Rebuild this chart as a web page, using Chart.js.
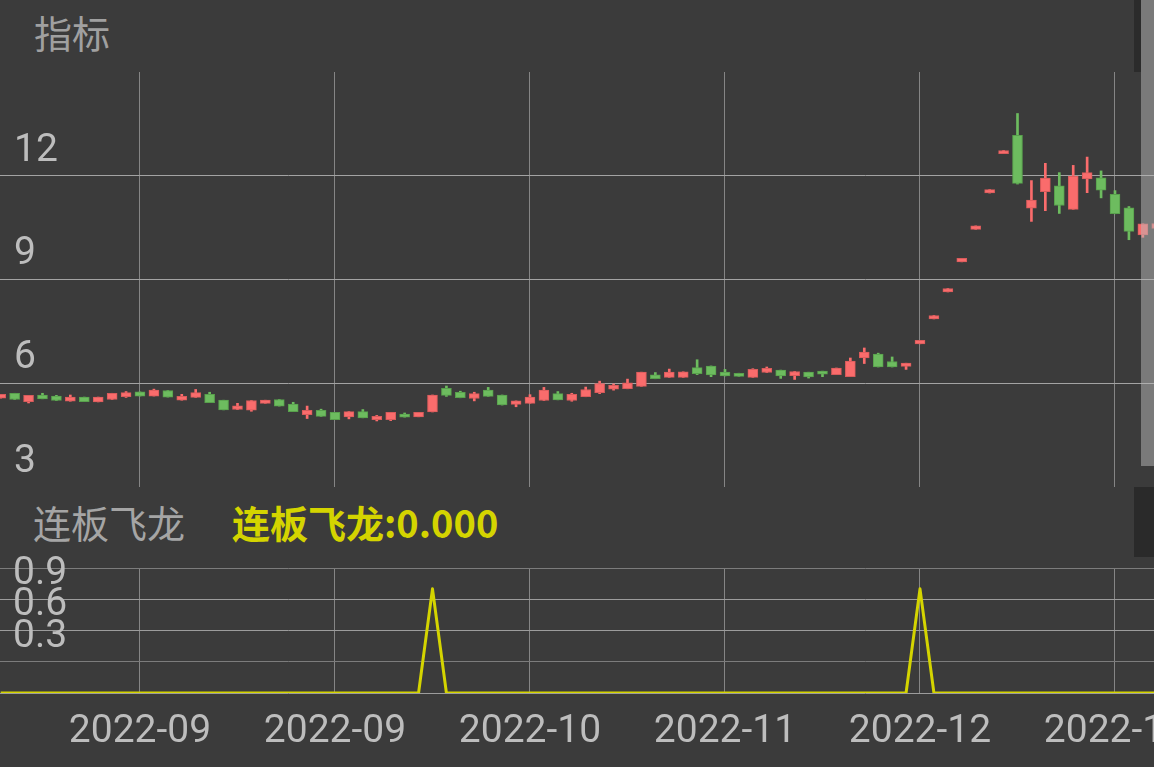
<!DOCTYPE html>
<html>
<head>
<meta charset="utf-8">
<script src="https://cdn.jsdelivr.net/npm/chart.js@4"></script>
<style>
  html, body { margin: 0; padding: 0; background: #3b3b3b; }
  #wrap { position: relative; width: 1154px; height: 767px; overflow: hidden; background: #3b3b3b; }
  canvas { position: absolute; left: 0; }
  .ttl { position: absolute; font-family: "Noto Sans CJK SC", sans-serif; font-size: 38px; line-height: 38px; white-space: nowrap; }
  .box { position: absolute; }
</style>
</head>
<body>
<div id="wrap">
  <div class="ttl" style="left:34px; top:13px; color:#a0a0a0;">指标</div>
  <canvas id="kline" width="1154" height="415" style="top:72px;"></canvas>
  <div class="ttl" style="left:33px; top:503px; color:#a5a5a5;">连板飞龙</div>
  <div class="ttl" style="left:232px; top:503px; color:#d4d400; font-weight:bold;">连板飞龙:0.000</div>
  <canvas id="sig" width="1154" height="212" style="top:555px;"></canvas>
  <!-- 右边的滚动条 -->
  <div class="box" style="left:1134px; top:0; width:7px; height:72px; background:#2b2b2b;"></div>
  <div class="box" style="left:1141px; top:0; width:13px; height:466px; background:rgba(185,185,185,0.5);"></div>
  <div class="box" style="left:1134px; top:487px; width:20px; height:70px; background:#2a2a2a;"></div>
</div>
<script>
// 交易日 (index -10 .. 73)
const dates = [
  '2022-08-24','2022-08-25','2022-08-26','2022-08-29','2022-08-30','2022-08-31','2022-09-01','2022-09-02','2022-09-05','2022-09-06',
  '2022-09-07','2022-09-08','2022-09-09','2022-09-13','2022-09-14','2022-09-15','2022-09-16','2022-09-19','2022-09-20','2022-09-21',
  '2022-09-22','2022-09-23','2022-09-26','2022-09-27','2022-09-28','2022-09-29','2022-09-30','2022-10-10','2022-10-11','2022-10-12',
  '2022-10-13','2022-10-14','2022-10-17','2022-10-18','2022-10-19','2022-10-20','2022-10-21','2022-10-24','2022-10-25','2022-10-26',
  '2022-10-27','2022-10-28','2022-10-31','2022-11-01','2022-11-02','2022-11-03','2022-11-04','2022-11-07','2022-11-08','2022-11-09',
  '2022-11-10','2022-11-11','2022-11-14','2022-11-15','2022-11-16','2022-11-17','2022-11-18','2022-11-21','2022-11-22','2022-11-23',
  '2022-11-24','2022-11-25','2022-11-28','2022-11-29','2022-11-30','2022-12-01','2022-12-02','2022-12-05','2022-12-06','2022-12-07',
  '2022-12-08','2022-12-09','2022-12-12','2022-12-13','2022-12-14','2022-12-15','2022-12-16','2022-12-19','2022-12-20','2022-12-21',
  '2022-12-22','2022-12-23','2022-12-26','2022-12-27'
];
const firstIdx = -10;

const open = [
  5.57,5.71,5.47,5.66,5.63,5.48,5.60,5.46,5.53,5.61,
  5.75,5.63,5.79,5.51,5.59,5.68,5.51,5.24,5.22,5.42,
  5.53,5.40,5.09,5.22,5.16,5.03,5.18,4.95,4.95,5.11,
  5.03,5.17,5.85,5.74,5.56,5.80,5.66,5.39,5.42,5.50,
  5.70,5.50,5.61,5.73,5.83,5.84,5.91,6.24,6.17,6.17,
  6.45,6.50,6.32,6.29,6.17,6.31,6.38,6.22,6.32,6.35,
  6.25,6.19,6.73,6.84,6.63,6.49,7.14,7.86,8.64,9.51,
  10.45,11.50,12.64,13.17,11.06,11.54,11.71,11.03,11.91,11.94,
  11.46,11.07,10.29,10.48
];
const close = [
  5.68,5.53,5.65,5.55,5.50,5.60,5.47,5.60,5.71,5.73,
  5.63,5.80,5.60,5.62,5.73,5.44,5.23,5.35,5.50,5.51,
  5.34,5.18,5.22,5.04,4.95,5.18,5.00,5.04,5.16,5.02,
  5.16,5.66,5.65,5.58,5.70,5.62,5.37,5.49,5.60,5.80,
  5.52,5.68,5.82,5.99,5.94,6.01,6.32,6.13,6.32,6.33,
  6.28,6.24,6.21,6.20,6.40,6.43,6.21,6.34,6.18,6.26,
  6.44,6.64,6.90,6.47,6.47,6.58,7.24,7.96,8.74,9.61,
  10.55,11.60,12.73,11.78,11.30,11.93,11.14,11.99,12.09,11.58,
  10.90,10.39,10.61,10.62
];
const high = [
  5.68,5.71,5.65,5.71,5.65,5.66,5.60,5.60,5.71,5.76,
  5.75,5.83,5.79,5.68,5.82,5.74,5.51,5.42,5.50,5.51,
  5.53,5.45,5.34,5.25,5.16,5.18,5.24,5.07,5.16,5.14,
  5.16,5.66,5.92,5.77,5.74,5.88,5.66,5.49,5.67,5.88,
  5.76,5.71,5.89,6.06,5.98,6.12,6.32,6.31,6.41,6.33,
  6.68,6.50,6.40,6.29,6.42,6.47,6.38,6.34,6.32,6.35,
  6.44,6.73,7.02,6.87,6.76,6.58,7.24,7.96,8.74,9.61,
  10.55,11.60,12.73,13.80,11.86,12.36,12.09,12.30,12.54,12.14,
  11.57,11.11,10.61,11.00
];
const low = [
  5.57,5.53,5.43,5.55,5.50,5.48,5.47,5.46,5.53,5.59,
  5.63,5.63,5.60,5.51,5.59,5.44,5.23,5.24,5.19,5.42,
  5.34,5.18,4.98,5.04,4.95,4.97,5.00,4.91,4.92,5.02,
  5.03,5.17,5.62,5.58,5.49,5.62,5.37,5.32,5.42,5.50,
  5.52,5.48,5.61,5.70,5.80,5.84,5.91,6.13,6.17,6.17,
  6.25,6.19,6.21,6.20,6.17,6.31,6.14,6.11,6.15,6.19,
  6.25,6.19,6.57,6.47,6.47,6.40,7.14,7.86,8.64,9.51,
  10.45,11.50,12.64,11.76,10.68,10.99,10.91,11.03,11.51,11.36,
  10.90,10.15,10.22,10.48
];
// 连板飞龙信号
const signal = [
  0,0,0,0,0,0,0,0,0,0,
  0,0,0,0,0,0,0,0,0,0,
  0,0,0,0,0,0,0,0,0,0,
  0,1,0,0,0,0,0,0,0,0,
  0,0,0,0,0,0,0,0,0,0,
  0,0,0,0,0,0,0,0,0,0,
  0,0,0,0,0,0,1,0,0,0,
  0,0,0,0,0,0,0,0,0,0,
  0,0,0,0
];
const tickIdx = [0, 14, 28, 42, 56, 70];
const priceTicks = [3, 6, 9, 12, 15];
const sigTicks = [0, 0.3, 0.6, 0.9, 1.2];

const RED = '#fa6c6c', RED_EDGE = '#d85b5b';
const GREEN = '#6dbc5f', GREEN_EDGE = '#58a04c';
const LABEL = '#bdbdbd';
const tickFont = { family: 'Roboto', size: 39 };

const xs = dates.map((d, i) => i + firstIdx);
const up = open.map((o, i) => close[i] >= o);

function noPad(s) {
    s.paddingLeft = 0; s.paddingRight = 0; s.paddingTop = 0; s.paddingBottom = 0;
}

function xAxis(showLabels) {
    return {
        type: 'linear',
        min: -10.05,
        max: 72.8,
        offset: false,
        afterBuildTicks: s => { s.ticks = tickIdx.map(v => ({ value: v })); },
        afterFit: s => { noPad(s); s.height = showLabels ? 74 : 0; },
        grid: { color: '#858585', lineWidth: 1, drawTicks: false, offset: false },
        border: { display: false },
        ticks: {
            display: showLabels,
            autoSkip: false,
            maxRotation: 0,
            padding: 16,
            color: LABEL,
            font: tickFont,
            callback: v => dates[v - firstIdx].slice(0, 7)
        }
    };
}

// K线
new Chart(document.getElementById('kline'), {
    type: 'bar',
    data: {
        datasets: [
            {
                label: 'wick',
                data: xs.map((x, i) => ({ x: x, y: [low[i], high[i]] })),
                backgroundColor: up.map(u => u ? RED : GREEN),
                barThickness: 2,
                grouped: false,
                order: 2
            },
            {
                label: 'body',
                data: xs.map((x, i) => ({ x: x, y: [open[i], close[i]] })),
                backgroundColor: up.map(u => u ? RED : GREEN),
                borderColor: up.map(u => u ? RED_EDGE : GREEN_EDGE),
                borderWidth: 1,
                borderSkipped: false,
                barThickness: 10,
                minBarLength: 3,
                grouped: false,
                order: 1
            }
        ]
    },
    options: {
        responsive: false,
        animation: false,
        layout: { padding: 0 },
        plugins: { legend: { display: false }, tooltip: { enabled: false } },
        scales: {
            x: xAxis(false),
            y: {
                type: 'linear',
                min: 3,
                max: 15,
                afterBuildTicks: s => { s.ticks = priceTicks.map(v => ({ value: v })); },
                afterFit: s => { noPad(s); s.width = 0; },
                grid: {
                    color: c => (c.tick.value === 3 || c.tick.value === 15) ? 'rgba(0,0,0,0)' : '#a3a3a3',
                    drawTicks: false
                },
                border: { display: false },
                ticks: {
                    mirror: true,
                    autoSkip: false,
                    padding: 14,
                    labelOffset: -25,
                    color: LABEL,
                    font: tickFont,
                    callback: v => v === 15 ? '' : String(v)
                }
            }
        }
    }
});

// 连板飞龙
new Chart(document.getElementById('sig'), {
    type: 'line',
    data: {
        datasets: [{
            label: '连板飞龙',
            data: xs.map((x, i) => ({ x: x, y: signal[i] })),
            borderColor: '#d4d400',
            borderWidth: 3,
            borderJoinStyle: 'round',
            pointRadius: 0,
            tension: 0
        }]
    },
    options: {
        responsive: false,
        animation: false,
        layout: { padding: { top: 13, left: 0, right: 0, bottom: 0 } },
        plugins: { legend: { display: false }, tooltip: { enabled: false } },
        scales: {
            x: xAxis(true),
            y: {
                type: 'linear',
                min: 0,
                max: 1.2,
                afterBuildTicks: s => { s.ticks = sigTicks.map(v => ({ value: v })); },
                afterFit: s => { noPad(s); s.width = 0; },
                grid: {
                    color: c => (c.tick.value === 1.2 || c.tick.value === 0.3) ? '#7c7c7c' : '#9c9c9c',
                    drawTicks: false
                },
                border: { display: false },
                ticks: {
                    mirror: true,
                    autoSkip: false,
                    padding: 13,
                    labelOffset: -25,
                    color: LABEL,
                    font: tickFont,
                    callback: v => (v === 0 || v === 1.2) ? '' : v.toFixed(1)
                }
            }
        }
    }
});
</script>
</body>
</html>
